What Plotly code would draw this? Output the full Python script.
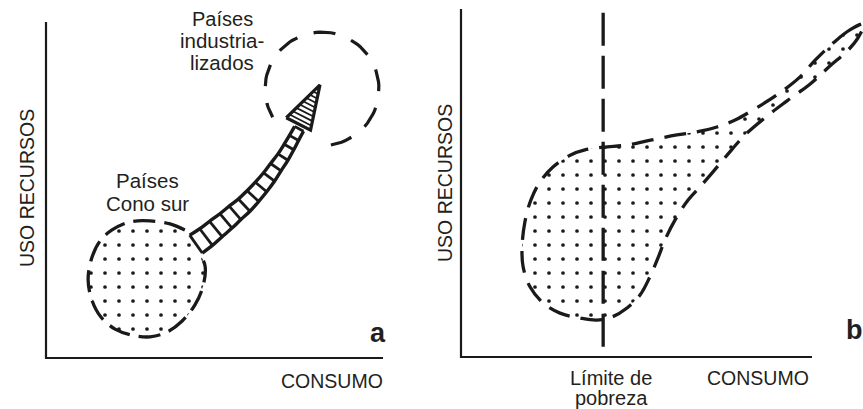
import numpy as np
import plotly.graph_objects as go

# ---------------- Panel a (CONSUMO vs USO RECURSOS, schematic units 0-10) -------------
cono_sur_u = [4.12, 3.68, 3.09, 2.49, 1.96, 1.60, 1.34, 1.25, 1.36, 1.63, 2.05, 2.55, 3.09, 3.59, 4.04, 4.42, 4.66, 4.72, 4.54]
cono_sur_v = [3.81, 3.99, 4.08, 4.05, 3.81, 3.48, 2.92, 2.32, 1.73, 1.22, 0.86, 0.68, 0.63, 0.77, 1.10, 1.58, 2.14, 2.74, 3.13]

arrow_u = [4.45, 4.75, 5.04, 5.34, 5.61, 5.88, 6.14, 6.38, 6.62, 6.82, 7.03, 7.21, 7.36, 7.51]
arrow_v = [3.39, 3.60, 3.84, 4.08, 4.32, 4.55, 4.82, 5.09, 5.39, 5.68, 5.98, 6.28, 6.55, 6.82]
arrow_w = [0.65, 0.62, 0.59, 0.56, 0.53, 0.50, 0.47, 0.44, 0.41, 0.38, 0.35, 0.33, 0.31, 0.30]

head_u = [7.13, 7.85, 8.13]   # base-left, base-right, tip
head_v = [7.15, 6.78, 8.13]

ind_center = (8.19, 8.01)
ind_radius = 1.69
ind_arc_deg = (279, 570)

# ---------------- Panel b ----------------
blob_b_u = [11.48, 11.08, 10.60, 10.09, 9.66, 9.00, 8.32, 7.81, 7.29, 6.72, 6.15, 5.44, 4.73, 4.05, 3.53, 3.11,
            2.62, 2.25, 1.99, 1.82, 1.74, 1.77, 1.97, 2.34, 2.82, 3.39, 3.87, 4.30, 4.73, 5.10, 5.38, 5.61,
            5.81, 6.10, 6.47, 6.81, 7.18, 7.58, 8.09, 8.69, 9.29, 9.94, 10.51, 11.03, 11.31, 11.48]
blob_b_v = [9.57, 9.40, 9.02, 8.53, 8.05, 7.53, 7.10, 6.81, 6.61, 6.47, 6.38, 6.24, 6.09, 6.03, 5.95, 5.80,
            5.46, 5.03, 4.51, 3.88, 3.16, 2.59, 2.01, 1.55, 1.26, 1.12, 1.06, 1.15, 1.41, 1.78, 2.30, 2.84,
            3.36, 3.94, 4.51, 4.89, 5.32, 5.80, 6.38, 6.90, 7.36, 7.84, 8.36, 8.82, 9.17, 9.57]
poverty_u = 4.05

INK = "#1a1a1a"
TXT = "#231f20"
FONT = "Liberation Sans, Arial, Helvetica, sans-serif"

W, H = 863, 409
OFF = 0  # body margin removed by post_script below

fig = go.Figure()

stipple = dict(shape=".", size=14, solidity=0.055, fgcolor=INK, bgcolor="white", fillmode="replace")

def add(tr, panel):
    if panel == "b":
        tr.update(xaxis="x2", yaxis="y2")
    fig.add_trace(tr)

for panel in ("a", "b"):
    add(go.Scatter(x=[0, 0, 10], y=[10, 0, 0], mode="lines",
                   line=dict(color=INK, width=2.2), hoverinfo="skip"), panel)

# panel a blob
add(go.Scatter(x=cono_sur_u, y=cono_sur_v, mode="lines", fill="toself", line=dict(width=0, shape="spline"),
               fillcolor="white", fillpattern=stipple, hoverinfo="skip"), "a")
add(go.Scatter(x=cono_sur_u, y=cono_sur_v, mode="lines",
               line=dict(color=INK, width=3.3, dash="22px,9px", shape="spline"), hoverinfo="skip"), "a")

# ladder arrow
cu, cv, cw = np.array(arrow_u), np.array(arrow_v), np.array(arrow_w)
tu, tv = np.gradient(cu), np.gradient(cv)
nrm = np.hypot(tu, tv)
nu, nv = tv / nrm, -tu / nrm
up_u, up_v = cu - nu * cw / 2, cv - nv * cw / 2
lo_u, lo_v = cu + nu * cw / 2, cv + nv * cw / 2
for ru, rv in ((up_u, up_v), (lo_u, lo_v)):
    add(go.Scatter(x=list(ru), y=list(rv), mode="lines",
                   line=dict(color=INK, width=3.4, shape="spline"), hoverinfo="skip"), "a")
rx, ry = [], []
for i in range(len(cu)):
    rx += [up_u[i], lo_u[i], None]
    ry += [up_v[i], lo_v[i], None]
add(go.Scatter(x=rx, y=ry, mode="lines", line=dict(color=INK, width=2.8), hoverinfo="skip"), "a")

# arrow head
add(go.Scatter(x=head_u + [head_u[0]], y=head_v + [head_v[0]], mode="lines",
               line=dict(color=INK, width=3.2), fill="toself", fillcolor="white", hoverinfo="skip"), "a")
hx, hy = [], []
bl, br, tp = np.array([head_u[0], head_v[0]]), np.array([head_u[1], head_v[1]]), np.array([head_u[2], head_v[2]])
for t in np.linspace(0.1, 0.8, 8):
    p, q = bl + t * (tp - bl), br + t * (tp - br)
    hx += [p[0], q[0], None]
    hy += [p[1], q[1], None]
add(go.Scatter(x=hx, y=hy, mode="lines", line=dict(color=INK, width=1.7), hoverinfo="skip"), "a")

# industrialised circle
ang = np.radians(np.linspace(ind_arc_deg[0], ind_arc_deg[1], 80))
add(go.Scatter(x=ind_center[0] + ind_radius * np.cos(ang), y=ind_center[1] + ind_radius * np.sin(ang),
               mode="lines", line=dict(color=INK, width=3.2, dash="22px,17px"), hoverinfo="skip"), "a")

# panel b blob
add(go.Scatter(x=blob_b_u, y=blob_b_v, mode="lines", fill="toself", line=dict(width=0, shape="spline"),
               fillcolor="white", fillpattern=stipple, hoverinfo="skip"), "b")
add(go.Scatter(x=blob_b_u, y=blob_b_v, mode="lines",
               line=dict(color=INK, width=3.3, dash="22px,11px", shape="spline"), hoverinfo="skip"), "b")
add(go.Scatter(x=[poverty_u, poverty_u], y=[9.89, 0], mode="lines",
               line=dict(color=INK, width=3.3, dash="33px,10px"), hoverinfo="skip"), "b")

def ann(text, px, py, size=20, angle=0, bold=False, xanchor="center"):
    fig.add_annotation(text=f"<b>{text}</b>" if bold else text,
                       x=(px - OFF) / W, y=1 - (py - OFF) / H,
                       xref="paper", yref="paper", showarrow=False, textangle=angle,
                       xanchor=xanchor, yanchor="middle",
                       font=dict(family=FONT, size=size, color=TXT))

ann("Países", 222, 19, size=20)
ann("industria-", 222, 41, size=20.5)
ann("lizados", 222, 62, size=20.5)
ann("Países", 147, 180, size=20.5)
ann("Cono sur", 147, 203, size=20.5)
ann("CONSUMO", 332, 381, size=19.5)
ann("USO RECURSOS", 27, 188, size=19.5, angle=-90)
ann("a", 378, 333, size=27, bold=True)
ann("USO RECURSOS", 445, 183, size=19.5, angle=-90)
ann("CONSUMO", 758, 378, size=19.5)
ann("Límite de", 611, 378)
ann("pobreza", 611, 398)
ann("b", 844, 330, size=27, bold=True, xanchor="left")

ax = dict(visible=False, fixedrange=True)
xa = [(OFF - 46) / 33.7, (430 - 46) / 33.7]
ya = [(358 - (OFF + H)) / 33.6, (358 - OFF) / 33.6]
xb = [(430 - 461) / 35.1, (OFF + W - 461) / 35.1]
yb = [(357 - (OFF + H)) / 34.8, (357 - OFF) / 34.8]
split = (430 - OFF) / W

fig.update_layout(
    width=W, height=H, margin=dict(l=0, r=0, t=0, b=0),
    paper_bgcolor="white", plot_bgcolor="white", showlegend=False,
    xaxis=dict(domain=[0, split], range=xa, **ax),
    yaxis=dict(domain=[0, 1], range=ya, **ax),
    xaxis2=dict(domain=[split, 1], range=xb, anchor="y2", **ax),
    yaxis2=dict(domain=[0, 1], range=yb, anchor="x2", **ax),
)
fig.write_html("out.html", config={"displayModeBar": False},
               post_script="document.body.style.margin='0';document.body.style.overflow='hidden';")
